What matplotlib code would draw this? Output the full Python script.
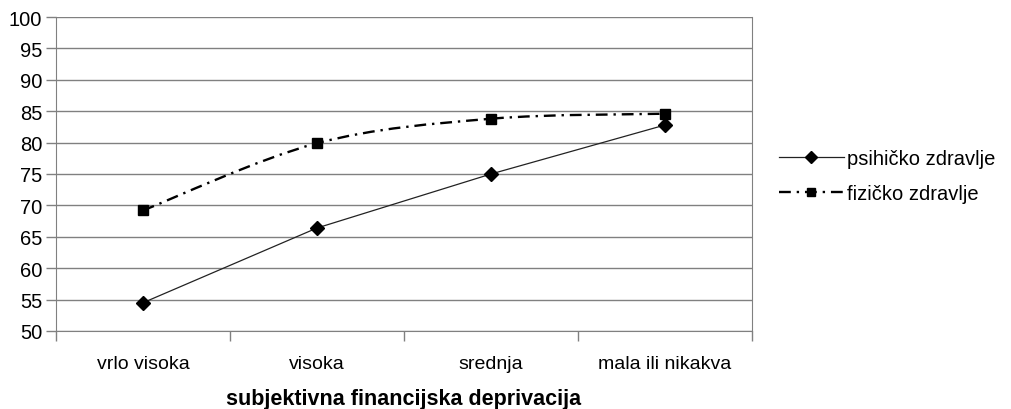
import matplotlib
matplotlib.use("Agg")
import matplotlib.pyplot as plt
import numpy as np
from matplotlib.path import Path
from matplotlib.patches import PathPatch
from matplotlib.lines import Line2D

plt.rcParams['font.family'] = ['Liberation Sans', 'DejaVu Sans']

categories = ['vrlo visoka', 'visoka', 'srednja', 'mala ili nikakva']
psihicko = [54.5, 66.4, 75.0, 82.8]
fizicko = [69.2, 79.9, 83.8, 84.6]

fig = plt.figure(figsize=(10.11, 4.10), dpi=100)
ax = fig.add_axes([56 / 1011, 78 / 410, 696 / 1011, 314 / 410])

x = np.arange(len(categories)) + 0.5

# smoothed line (Excel style bezier through the points)
def smooth_path(xs, ys, t=1 / 6):
    pts = np.column_stack([xs, ys])
    verts = [pts[0]]
    codes = [Path.MOVETO]
    n = len(pts)
    for i in range(n - 1):
        p0 = pts[i - 1] if i > 0 else pts[i]
        p1 = pts[i]
        p2 = pts[i + 1]
        p3 = pts[i + 2] if i + 2 < n else pts[i + 1]
        c1 = p1 + (p2 - p0) * t
        c2 = p2 - (p3 - p1) * t
        verts += [c1, c2, p2]
        codes += [Path.CURVE4] * 3
    return Path(verts, codes)

dashdot = (0, (5, 2.5, 1, 2.5))

ax.plot(x, psihicko, color='#222222', lw=0.9, marker='D', ms=7,
        mfc='black', mec='black', zorder=3)
patch = PathPatch(smooth_path(x, fizicko), fill=False, ec='black', lw=1.7,
                  linestyle=dashdot, zorder=3)
ax.add_patch(patch)
ax.plot(x, fizicko, ls='none', marker='s', ms=7, mfc='black', mec='black', zorder=4)

ax.set_xlim(0, len(categories))
ax.set_ylim(50, 100)
ax.set_yticks(np.arange(50, 101, 5))
ax.set_xticks(np.arange(0, len(categories) + 1), minor=False)
ax.set_xticklabels([])
ax.set_xticks(x, minor=True)
ax.set_xticklabels(categories, minor=True)
ax.tick_params(axis='x', which='minor', length=0, pad=17, labelsize=14)
ax.tick_params(axis='x', which='major', length=7, color='#808080', width=1)
ax.tick_params(axis='y', length=7, color='#808080', width=1, labelsize=14.5, pad=3)
ax.grid(axis='y', color='#808080', lw=1)
ax.spines['top'].set_visible(False)
for s in ['left', 'bottom', 'right']:
    ax.spines[s].set_color('#808080')
ax.set_xlabel('subjektivna financijska deprivacija', fontsize=15.5,
              fontweight='bold', labelpad=12)

handles = [
    Line2D([], [], color='#222222', lw=0.9, marker='D', ms=6, mfc='black', mec='black'),
    Line2D([], [], color='black', lw=1.7, linestyle=dashdot,
           marker='s', ms=6, mfc='black', mec='black'),
]
fig.legend(handles, ['psihičko zdravlje', 'fizičko zdravlje'],
           loc='center left', bbox_to_anchor=(761 / 1011, 1 - 177 / 410),
           frameon=False, fontsize=14.5, handlelength=3.2, handletextpad=0.15,
           labelspacing=0.75)

fig.savefig('out.png', dpi=100)
